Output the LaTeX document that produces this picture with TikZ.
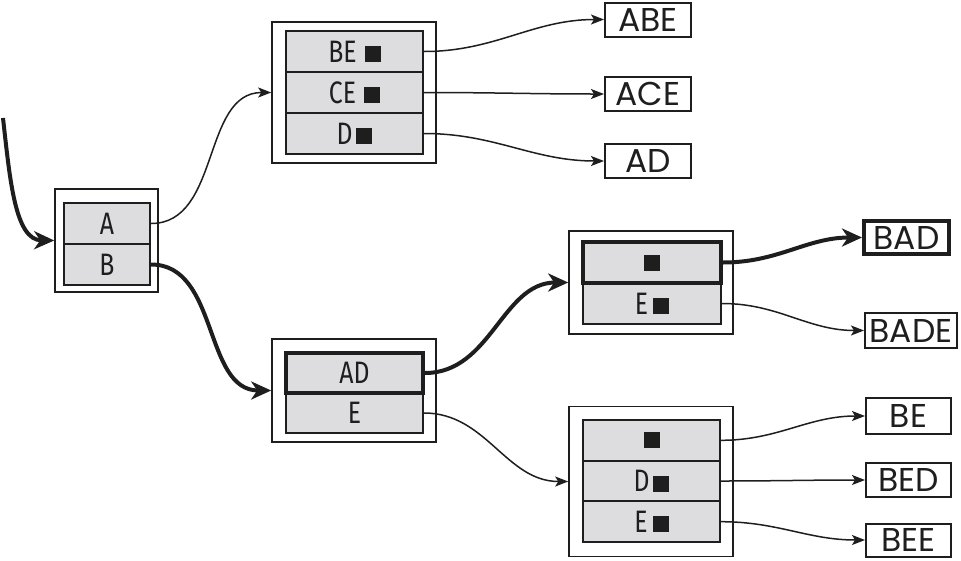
\documentclass[tikz,border=0pt]{standalone}
\usepackage{fontspec}
\setmainfont{Fira Sans}
\newfontfamily\rowfont[FakeStretch=0.8]{Fira Sans}
\newfontfamily\leaffont{Poppins}
\usetikzlibrary{arrows.meta}
\definecolor{rowgray}{RGB}{221,221,224}
\definecolor{ink}{RGB}{30,30,30}
\newcommand\sqmark{\rule{16pt}{16pt}}
\begin{document}
\begin{tikzpicture}[x=1pt,y=-1pt,
  outerbox/.style={draw=ink, line width=1.6pt, inner sep=0pt},
  rowbox/.style={draw=ink, fill=rowgray, line width=2.2pt, minimum width=137pt, minimum height=41pt, inner sep=0pt, text=ink, font=\rowfont\fontsize{31}{31}\selectfont},
  rowheavy/.style={rowbox, line width=4pt},
  leafbox/.style={draw=ink, fill=white, line width=2pt, minimum width=86pt, minimum height=34pt, inner sep=0pt, text=ink, font=\leaffont\fontsize{33}{33}\selectfont},
  leafheavy/.style={leafbox, line width=4pt},
  lightarrow/.style={draw=ink, line width=1.5pt, -{Stealth[length=13pt,width=10pt,inset=3pt]}},
  heavyarrow/.style={draw=ink, line width=4pt, -{Stealth[length=20pt,width=18pt,inset=6pt]}}]
\useasboundingbox (0,0) rectangle (961,560);

% root
\node[outerbox, minimum width=103pt, minimum height=103pt] (root) at (106.5,240.5) {};
\node[rowbox, minimum width=86pt] (rA) at (107,223.5) {A};
\node[rowbox, minimum width=86pt] (rB) at (107,264.5) {B};

% top node
\node[outerbox, minimum width=164pt, minimum height=141pt] (top) at (354,92.5) {};
\node[rowbox] (tBE) at (354.5,51.5) {BE\hspace{8pt}\sqmark};
\node[rowbox] (tCE) at (354.5,92.5) {CE\hspace{8pt}\sqmark};
\node[rowbox] (tD) at (354.5,133.5) {D\hspace{4pt}\sqmark};

% node 2
\node[outerbox, minimum width=164pt, minimum height=103pt] (n2) at (354,390.5) {};
\node[rowbox, minimum height=40pt] (n2E) at (354.5,413) {E};
\node[rowheavy, minimum height=40pt] (n2AD) at (354.5,373) {AD};

% node 3
\node[outerbox, minimum width=164pt, minimum height=103pt] (n3) at (651,282.5) {};
\node[rowbox, minimum width=138pt] (n3E) at (652,303.5) {E\hspace{5pt}\sqmark};
\node[rowheavy, minimum width=138pt] (n3S) at (652,262.5) {\sqmark};

% node 4
\node[outerbox, minimum width=164pt, minimum height=150pt] (n4) at (651,481.5) {};
\node[rowbox, minimum height=40.7pt] (n4S) at (651.5,440.3) {\sqmark};
\node[rowbox, minimum height=40.7pt] (n4D) at (651.5,481) {D\hspace{4pt}\sqmark};
\node[rowbox, minimum height=40.7pt] (n4E) at (651.5,521.7) {E\hspace{5pt}\sqmark};

% leaves
\node[leafbox] (lABE) at (648,19.5) {ABE};
\node[leafbox] (lACE) at (648,94) {ACE};
\node[leafbox] (lAD) at (648,161) {AD};
\node[leafheavy, minimum width=85pt, minimum height=33pt] (lBAD) at (906.5,237.5) {BAD};
\node[leafbox, minimum width=92pt, minimum height=35pt] (lBADE) at (911,330.5) {BADE};
\node[leafbox, minimum width=85pt, minimum height=36pt] (lBE) at (908.5,416) {BE};
\node[leafbox, minimum width=85pt] (lBED) at (908.5,480) {BED};
\node[leafbox, minimum width=85pt, minimum height=33pt] (lBEE) at (908.5,540) {BEE};

% connectors
\coordinate (in0) at (3,118);
\draw[heavyarrow] (in0) .. controls (10,180) and (15,240) .. (root.west);
\draw[lightarrow] (rA.east) to[out=0,in=180] (top.west);
\draw[heavyarrow] (rB.east) to[out=0,in=180] (n2.west);
\draw[lightarrow] (tBE.east) to[out=0,in=180] (lABE.west);
\draw[lightarrow] (tCE.east) to[out=0,in=180] (lACE.west);
\draw[lightarrow] (tD.east) to[out=0,in=180] (lAD.west);
\draw[heavyarrow] (n2AD.east) to[out=0,in=180] (n3.west);
\draw[lightarrow] (n2E.east) to[out=0,in=180] (n4.west);
\draw[heavyarrow] (n3S.east) to[out=0,in=180] (lBAD.west);
\draw[lightarrow] (n3E.east) to[out=0,in=180] (lBADE.west);
\draw[lightarrow] (n4S.east) to[out=0,in=180] (lBE.west);
\draw[lightarrow] (n4D.east) to[out=0,in=180] (lBED.west);
\draw[lightarrow] (n4E.east) to[out=0,in=180] (lBEE.west);
\end{tikzpicture}
\end{document}
